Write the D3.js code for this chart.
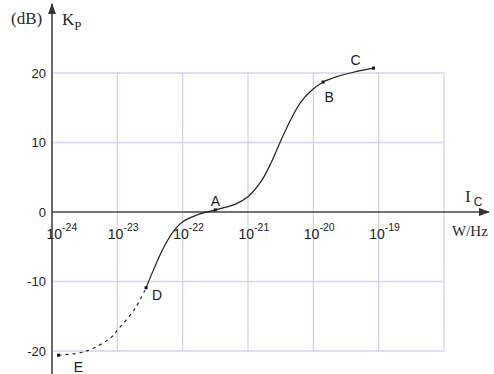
<!DOCTYPE html>
<html>
<head>
<meta charset="utf-8">
<script src="https://cdn.jsdelivr.net/npm/d3@7"></script>
<style>
  body { margin: 0; background: #fff; }
  svg { display: block; }
  .tick text { font-family: "Liberation Sans", Arial, sans-serif; fill: #222; }
</style>
</head>
<body>
<div id="chart"></div>
<script>
// exponents of W (W/Hz) and gain Kp (dB)
var dashedExp = [-23.9, -23.5, -23.1, -22.99, -22.73, -22.56];
var dashedDb  = [-20.6, -20.1, -18.1, -16.9, -13.9, -10.9];
var solidExp  = [-22.56, -22.45, -22.3, -22.15, -22.0, -21.8, -21.5, -21.2, -21.0, -20.8, -20.65, -20.51, -20.35, -20.2, -20.05, -19.85, -19.6, -19.35, -19.08];
var solidDb   = [-10.9, -8.4, -5.3, -2.9, -1.4, -0.5, 0.3, 1.1, 2.2, 4.4, 7.0, 10.0, 13.2, 15.7, 17.3, 18.7, 19.6, 20.2, 20.7];
var yTicks = [-20, -10, 0, 10, 20];
var xTickExp = [-24, -23, -22, -21, -20, -19];
var gridExp = [-23, -22, -21, -20, -19, -18];
var pointNames = ["A", "B", "C", "D", "E"];
var pointExp = [-21.5, -19.85, -19.08, -22.56, -23.9];
var pointDb = [0.3, 18.7, 20.7, -10.9, -20.6];

var svgWidth = 494, svgHeight = 374;

var svg = d3.select("#chart").append("svg")
    .attr("width", svgWidth)
    .attr("height", svgHeight);

var x = d3.scaleLog().domain([1e-24, 1e-18]).range([52, 444]);
var y = d3.scaleLinear().domain([-20, 20]).range([351, 73]);

// grid
svg.append("g").selectAll("line")
    .data(gridExp)
    .enter().append("line")
    .attr("x1", d => x(Math.pow(10, d))).attr("x2", d => x(Math.pow(10, d)))
    .attr("y1", y(20)).attr("y2", y(-20))
    .attr("stroke", "#d2d2ff").attr("stroke-width", 1.3);

svg.append("g").selectAll("line")
    .data(yTicks.filter(d => d !== 0))
    .enter().append("line")
    .attr("x1", x(1e-24)).attr("x2", x(1e-18))
    .attr("y1", d => y(d)).attr("y2", d => y(d))
    .attr("stroke", "#d2d2ff").attr("stroke-width", 1.3);

// axes lines with arrows
svg.append("defs").append("marker")
    .attr("id", "arrow")
    .attr("viewBox", "0 0 10 10")
    .attr("refX", 9).attr("refY", 5)
    .attr("markerWidth", 7).attr("markerHeight", 7)
    .attr("orient", "auto")
    .append("path").attr("d", "M0,1.5L10,5L0,8.5z").attr("fill", "#333");

svg.append("line")
    .attr("x1", x(1e-24)).attr("x2", x(1e-24))
    .attr("y1", 374).attr("y2", 4)
    .attr("stroke", "#444").attr("stroke-width", 1.6)
    .attr("marker-end", "url(#arrow)");

svg.append("line")
    .attr("x1", x(1e-24)).attr("x2", 489)
    .attr("y1", y(0)).attr("y2", y(0))
    .attr("stroke", "#444").attr("stroke-width", 1.6)
    .attr("marker-end", "url(#arrow)");

// y tick labels
var leftAxis = d3.axisLeft(y).tickValues(yTicks).tickSize(0).tickPadding(6)
    .tickFormat(d => String(d));
var gy = svg.append("g").attr("transform", `translate(${x(1e-24)},0)`).call(leftAxis);
gy.select(".domain").remove();
gy.selectAll("text").style("font-size", "13px");

// x tick labels: 10 with superscript exponent
var bottomAxis = d3.axisBottom(x).tickValues(xTickExp.map(e => Math.pow(10, e))).tickSize(0)
    .tickFormat(() => "");
var gx = svg.append("g").attr("transform", `translate(0,${y(0)})`).call(bottomAxis);
gx.select(".domain").remove();
gx.selectAll(".tick text").each(function (d, i) {
    var t = d3.select(this)
        .attr("text-anchor", "start")
        .attr("x", i === 0 ? -6 : -10)
        .attr("y", 0).attr("dy", null);
    t.append("tspan").attr("y", 27).style("font-size", "14px").text("10");
    t.append("tspan").attr("y", 19).style("font-size", "10.5px").text(String(xTickExp[i]));
});

// curve
var line = d3.line()
    .x(d => x(Math.pow(10, d[0])))
    .y(d => y(d[1]))
    .curve(d3.curveCatmullRom.alpha(0.5));

svg.append("path")
    .datum(dashedExp.map((e, i) => [e, dashedDb[i]]))
    .attr("d", line)
    .attr("fill", "none").attr("stroke", "#222").attr("stroke-width", 1.2)
    .attr("stroke-dasharray", "3,4");

svg.append("path")
    .datum(solidExp.map((e, i) => [e, solidDb[i]]))
    .attr("d", line)
    .attr("fill", "none").attr("stroke", "#222").attr("stroke-width", 1.2);

// point markers
svg.append("g").selectAll("rect")
    .data(pointExp)
    .enter().append("rect")
    .attr("x", d => x(Math.pow(10, d)) - 1.5)
    .attr("y", (d, i) => y(pointDb[i]) - 1.5)
    .attr("width", 3).attr("height", 3)
    .attr("fill", "#111");

// point labels
var labelDx = [0, 6, -18, 11, 20];
var labelDy = [-8, 16, -7, 9, 13];
svg.append("g").selectAll("text")
    .data(pointNames)
    .enter().append("text")
    .attr("x", (d, i) => x(Math.pow(10, pointExp[i])) + labelDx[i])
    .attr("y", (d, i) => y(pointDb[i]) + labelDy[i])
    .attr("text-anchor", "middle")
    .attr("dominant-baseline", "middle")
    .style("font-family", "'Liberation Sans', Arial, sans-serif")
    .style("font-size", "14px")
    .style("fill", "#222")
    .text(d => d);

// axis titles
var serif = "'Liberation Serif', 'Times New Roman', serif";
svg.append("text").attr("x", 11).attr("y", 24)
    .style("font-family", serif).style("font-size", "17px").style("fill", "#2a2a2a")
    .text("(dB)");

var kp = svg.append("text").attr("x", 62).attr("y", 25)
    .style("font-family", serif).style("font-size", "17px").style("fill", "#2a2a2a");
kp.append("tspan").text("K");
kp.append("tspan").attr("y", 30).style("font-size", "13px").text("P");

var ic = svg.append("text").attr("x", 465).attr("y", 202)
    .style("font-family", serif).style("font-size", "17px").style("fill", "#2a2a2a");
ic.append("tspan").text("I");
ic.append("tspan").attr("dx", 3).attr("y", 206).style("font-size", "12px")
    .style("font-family", "'Liberation Sans', Arial, sans-serif").text("C");

svg.append("text").attr("x", 452).attr("y", 236)
    .style("font-family", serif).style("font-size", "15px").style("fill", "#2a2a2a")
    .text("W/Hz");
</script>
</body>
</html>
